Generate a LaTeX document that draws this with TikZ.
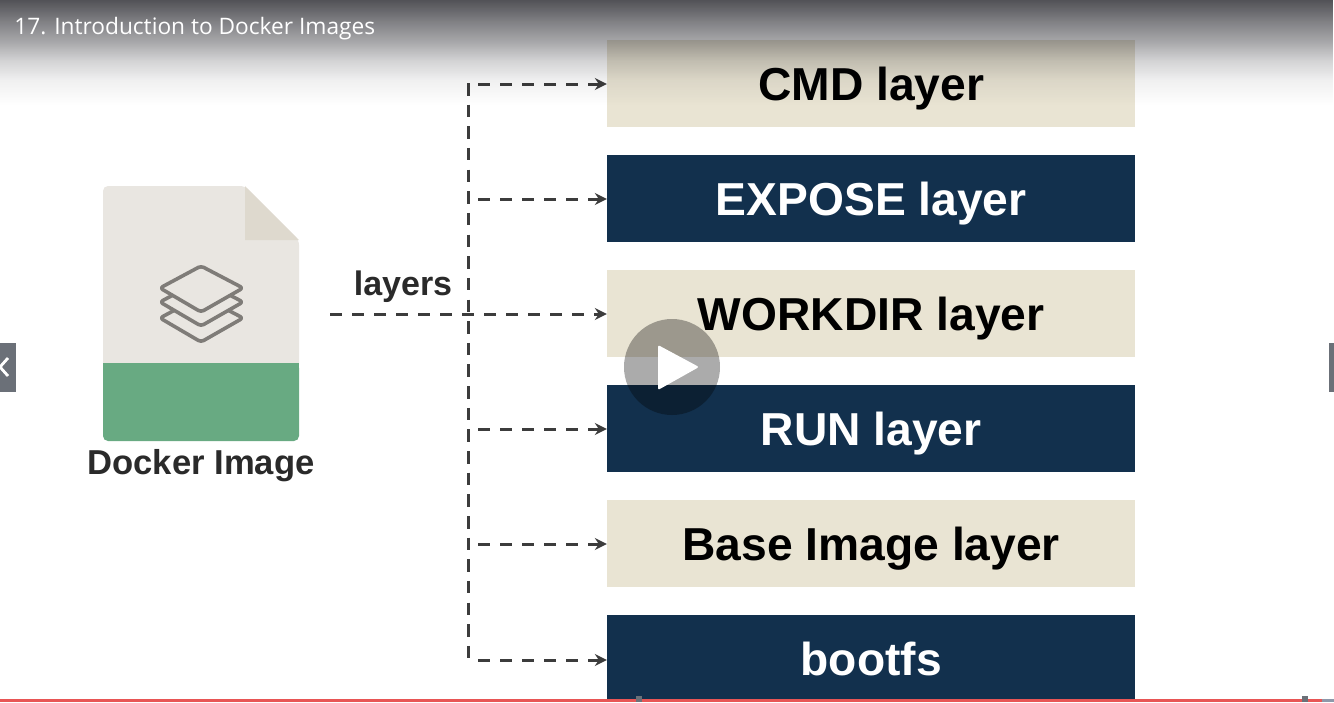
\documentclass[tikz,border=0pt]{standalone}
\usepackage{fontspec}
\setmainfont{Liberation Sans}
\newfontfamily\titlefont{Open Sans}
\usetikzlibrary{arrows.meta,fadings,calc}
\definecolor{beige}{HTML}{E9E4D3}
\definecolor{navy}{HTML}{12304D}
\definecolor{paper}{HTML}{E9E6E1}
\definecolor{foldc}{HTML}{DED9CE}
\definecolor{greenc}{HTML}{68AA82}
\definecolor{iconc}{HTML}{7F7C78}
\definecolor{inkc}{HTML}{3C3C3C}
\definecolor{labelc}{HTML}{2A2A2A}
\definecolor{tabc}{HTML}{6B7078}
\definecolor{barred}{HTML}{E85555}
\definecolor{barrest}{HTML}{8E98AA}
\definecolor{hdrc}{HTML}{08080F}
\pgfdeclareverticalshading{hdrshade}{100bp}{color(0bp)=(transparent!100); color(25bp)=(transparent!100); color(37bp)=(transparent!94); color(46.4bp)=(transparent!82); color(54.5bp)=(transparent!66); color(63bp)=(transparent!52); color(75bp)=(transparent!30); color(100bp)=(transparent!30)}
\pgfdeclarefading{hdrfade}{\pgfuseshading{hdrshade}}
\tikzset{
  x=0.5pt,y=-0.5pt,
  layerbox/.style={rectangle,inner sep=0pt,minimum width=264pt,minimum height=43.5pt,text height=18.7pt,text depth=1.5pt,font=\fontsize{23.1}{26}\selectfont\bfseries},
  lightbox/.style={layerbox,fill=beige,text=black},
  darkbox/.style={layerbox,fill=navy,text=white},
  trunkline/.style={draw=inkc,line width=1.5pt,dash pattern=on 6.25pt off 4.575pt},
  branch/.style={draw=inkc,line width=1.5pt,dash pattern=on 6pt off 5pt,-{Stealth[length=6pt,width=6pt]}},
  sheet/.style={draw=iconc,line width=1.8pt,fill=paper,rounded corners=1.5pt,line join=round},
}
\begin{document}
\begin{tikzpicture}
\useasboundingbox (0,0) rectangle (1334,702);
\fill[white] (0,0) rectangle (1334,702);
% layer boxes
\node[lightbox] (cmd) at (871.25,83.5) {CMD layer};
\node[darkbox] (expose) at (871.25,198.5) {EXPOSE layer};
\node[lightbox] (workdir) at (871.25,313.5) {WORKDIR layer};
\node[darkbox] (run) at (871.25,428.5) {RUN layer};
\node[lightbox] (base) at (871.25,543.5) {Base Image layer};
\node[darkbox] (bootfs) at (871.25,658.5) {bootfs};
% file icon
\fill[paper,rounded corners=2.5pt] (103,186) -- (245,186) -- (299,240) -- (299,370) -- (103,370) -- cycle;
\fill[greenc,rounded corners=2.5pt] (103,363) rectangle (299,441);
\fill[greenc] (103,363) rectangle (299,375);
\fill[foldc] (245,186) -- (299,240) -- (245,240) -- cycle;
\path[sheet] (201,296) -- (243,318) -- (201,342) -- (160,318) -- cycle;
\path[sheet] (201,280) -- (243,302) -- (201,326) -- (160,302) -- cycle;
\path[sheet] (201,266) -- (243,288) -- (201,312) -- (160,288) -- cycle;
\node[inner sep=0pt,font=\fontsize{17.3}{20}\selectfont\bfseries,text=labelc] (doclabel) at (201,466) {Docker Image};
\node[inner sep=0pt,font=\fontsize{17}{20}\selectfont\bfseries,text=labelc] (layerslabel) at (403,287) {layers};
% connectors
\coordinate (src) at (330,314);
\coordinate (ttop) at (468,83);
\coordinate (tbot) at (468,658);
\coordinate (t1) at (468,84);
\coordinate (t2) at (468,199);
\coordinate (t4) at (468,429);
\coordinate (t5) at (468,544);
\coordinate (t6) at (468,660);
\draw[trunkline] (ttop) -- (tbot);
\draw[branch,dash phase=6pt] (t1) -- (cmd.west |- t1);
\draw[branch,dash phase=6pt] (t2) -- (expose.west |- t2);
\draw[branch] (src) -- (workdir.west |- src);
\draw[branch,dash phase=6pt] (t4) -- (run.west |- t4);
\draw[branch,dash phase=6pt] (t5) -- (base.west |- t5);
\draw[branch,dash phase=6pt] (t6) -- (bootfs.west |- t6);
% header gradient
\path[fill=hdrc,path fading=hdrfade] (0,0) rectangle (1334,105);
\node[anchor=west,inner sep=0pt,text=white,font=\titlefont\fontsize{11.35}{14}\selectfont] (title) at (14,29) {17. Introduction to Docker Images};
% play button
\fill[black,opacity=0.33] (672,367) circle (48);
\fill[white,rounded corners=1pt] (658,345) -- (699,367) -- (658,390) -- cycle;
% side tabs
\fill[tabc] (0,343) rectangle (16,392);
\draw[white,line width=1.4pt] (8,358) -- (0,367) -- (8,376);
\fill[tabc] (1329,343) rectangle (1334,392);
% progress bar
\fill[barred] (0,699) rectangle (1322,702);
\fill[barrest] (1322,699) rectangle (1334,702);
\fill[tabc] (636,696) rectangle (642,702);
\fill[tabc] (1302,696) rectangle (1308,702);
\end{tikzpicture}
\end{document}
